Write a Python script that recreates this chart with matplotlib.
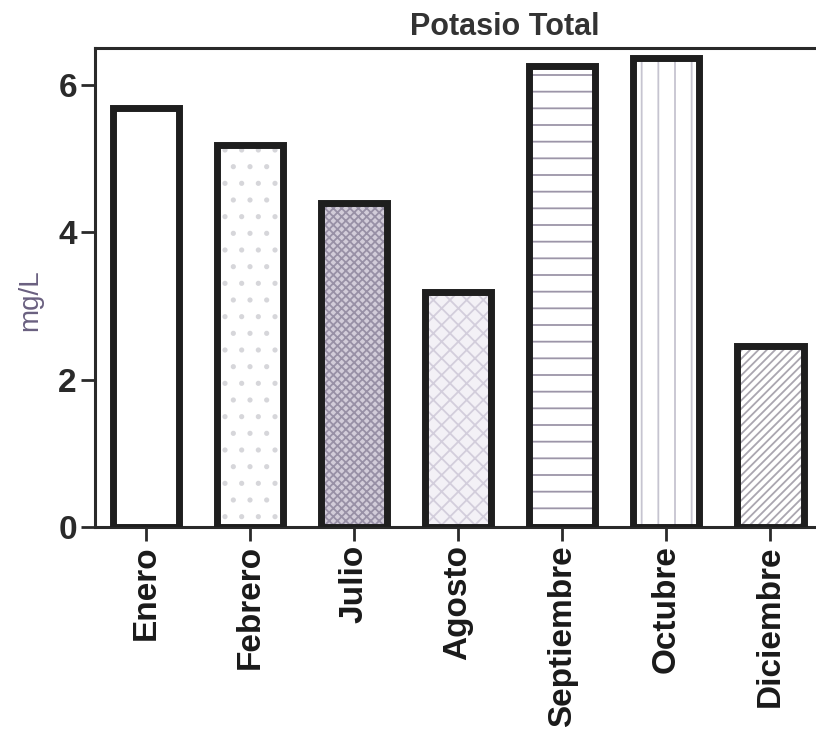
import matplotlib
matplotlib.use("Agg")
import matplotlib.pyplot as plt

months = ["Enero", "Febrero", "Julio", "Agosto", "Septiembre", "Octubre", "Diciembre"]
values = [5.69, 5.19, 4.39, 3.19, 6.26, 6.37, 2.46]
yticks = [0, 2, 4, 6]
title = "Potasio Total"
ylabel = "mg/L"

hatches = ["", ".", "xxxx", "xx", "-", "|", "////"]
hatch_colors = ["#ffffff", "#d6d6da", "#9890a6", "#d3cedc", "#9c95a8", "#c6c4d0", "#aaa6b0"]
face_colors = ["#ffffff", "#ffffff", "#d2ccd9", "#f3f1f6", "#ffffff", "#ffffff", "#ffffff"]

plt.rcParams["font.family"] = ["Liberation Sans", "DejaVu Sans"]
plt.rcParams["hatch.linewidth"] = 1.3

fig = plt.figure(figsize=(8.16, 7.45), dpi=100)
ax = fig.add_axes([95 / 816, 1 - 527 / 745, 1 - 95 / 816, (527 - 48) / 745])

x = list(range(len(months)))
width = 0.64
for i in x:
    ax.bar(i, values[i], width=width, color=face_colors[i], edgecolor=hatch_colors[i],
           hatch=hatches[i], linewidth=0, zorder=2)
ax.bar(x, values, width=width, fill=False, edgecolor="#1e1e1e", linewidth=5, zorder=3)

ax.set_xlim(-0.49, 6.44)
ax.set_ylim(0, 6.5)
ax.set_yticks(yticks)
ax.set_yticklabels([str(v) for v in yticks], fontsize=24, fontweight="bold", color="#2a2a2a")
ax.set_xticks(x)
ax.set_xticklabels(months, rotation=90, fontsize=24, fontweight="bold", color="#1a1a1a")

for s in ["left", "bottom", "top"]:
    ax.spines[s].set_linewidth(2.2)
    ax.spines[s].set_color("#2a2a2a")
ax.spines["right"].set_visible(False)
ax.tick_params(axis="both", direction="out", length=10, width=2, color="#2a2a2a", pad=3)

fig.text(30 / 816, 1 - 300 / 745, ylabel, rotation=90, fontsize=20, color="#6a6080",
         ha="center", va="center")
fig.text(505 / 816, 1 - 27 / 745, title, fontsize=22, fontweight="bold", color="#333333",
         ha="center", va="center")

fig.savefig("out.png", dpi=100)
